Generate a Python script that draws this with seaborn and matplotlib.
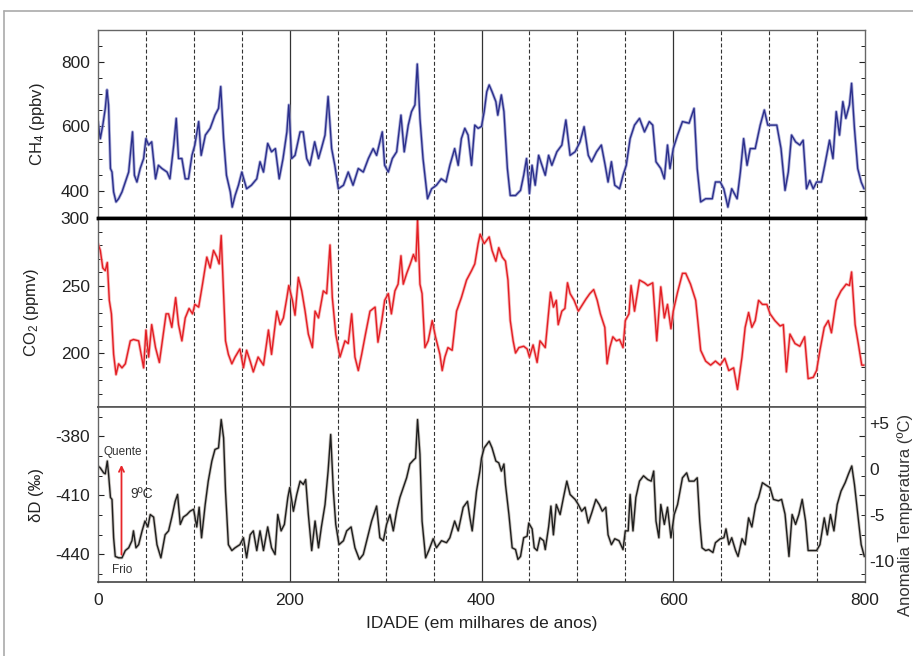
import matplotlib
matplotlib.use("Agg")
import matplotlib.pyplot as plt
from matplotlib.lines import Line2D
from matplotlib.ticker import MultipleLocator, FixedLocator
import seaborn as sns
import numpy as np

# ---------------- data ----------------
ch4_age = [0, 2.4, 5, 7.6, 9.4, 11, 13, 14.6, 16.3, 18.8, 21.5, 25, 28.5, 32, 36, 38, 40.6, 44, 47.6, 50,
           52.8, 56, 60, 63, 66.7, 72, 75, 79, 81.6, 84, 87.5, 91, 94.4, 98, 101, 105, 107.6, 112, 117, 122,
           125.7, 128, 131, 134, 138, 140, 143, 146.5, 150, 155, 160, 165.6, 169, 172.6, 177, 181, 185, 189,
           193, 197, 199, 202, 205.5, 210.8, 214, 217.7, 221, 226, 230, 233, 236.8, 240, 243.7, 247, 250.7,
           256, 261, 266, 271.5, 276.7, 282, 287, 290.6, 294, 296.5, 299, 302.8, 307, 311.5, 316, 319.4,
           323.6, 327, 330.6, 333, 335.8, 339, 343.7, 348, 353, 358, 363, 367, 372, 375.7, 379, 382.6, 386,
           389.6, 393, 396.5, 400, 402.8, 405.5, 408, 411, 415, 417, 420.7, 423.4, 427, 430, 435.5, 440.7,
           444, 447, 450, 452.7, 456, 459.6, 463, 466.5, 470, 473.4, 478.6, 483.8, 488, 492.4, 497.6, 502.8,
           507, 511.4, 514.8, 520, 525, 529, 532, 535.5, 539, 544, 547.6, 551, 555, 559.6, 564.8, 570, 575,
           578.6, 582, 587, 590.7, 594, 596.6, 600, 604.5, 609.6, 616.5, 621.7, 625, 628.6, 633.8, 640.7,
           644, 649, 652.7, 657, 661, 666.6, 670, 673.4, 677, 680.3, 685.5, 690.7, 695, 698.6, 702.8, 708,
           712.4, 716.6, 720, 723.4, 727.6, 732, 735.5, 739, 742.4, 746, 749.5, 754.5, 758, 763, 766.6, 770,
           773.4, 776.9, 780, 783.8, 786, 789, 792.4, 796, 799]
ch4_ppbv = [615, 562, 604, 656, 714, 667, 469, 458, 396, 365, 375, 396, 427, 458, 583, 448, 427, 469, 500, 562,
            542, 552, 437, 479, 469, 458, 437, 542, 625, 500, 500, 437, 437, 510, 542, 615, 510, 573, 594, 635,
            656, 724, 562, 448, 396, 349, 385, 417, 458, 406, 417, 437, 490, 458, 547, 521, 531, 437,
            500, 583, 667, 500, 510, 583, 583, 500, 479, 552, 500, 531, 573, 693, 531, 479, 406,
            417, 458, 417, 469, 458, 500, 531, 510, 552, 583, 479, 458, 500, 521, 635, 521,
            604, 646, 667, 794, 625, 500, 375, 406, 417, 437, 427, 479, 531, 479, 562, 594, 573,
            479, 604, 594, 600, 646, 708, 729, 708, 677, 635, 698, 646, 469, 385, 385, 401,
            448, 500, 391, 479, 417, 510, 479, 448, 510, 479, 521, 542, 620, 510, 521, 552,
            599, 510, 490, 521, 542, 479, 427, 490, 417, 406, 448, 479, 562, 604, 625, 583, 615,
            604, 490, 469, 437, 542, 469, 531, 573, 615, 610, 656, 469, 365, 375, 375,
            427, 427, 406, 349, 406, 375, 458, 562, 479, 531, 531, 604, 651, 604, 604, 604,
            531, 401, 458, 573, 552, 542, 557, 406, 432, 406, 427, 427, 479, 557, 500, 646,
            573, 677, 625, 667, 734, 594, 469, 427, 406]

co2_age = [0, 2.4, 5, 7.6, 9.7, 11.8, 14, 16.3, 18.8, 21.5, 25, 28.5, 33.7, 37, 42.4, 47.6, 50, 52.8, 56, 60,
           64, 66.7, 71, 73.6, 77, 81, 84, 87.5, 91, 95, 98.6, 101, 105, 109, 113.5, 117, 120.5, 124, 126.4,
           128.5, 131, 133, 136, 139.6, 143, 148, 151.7, 155, 158.7, 162, 167, 172.6, 177.8, 181, 186.5, 190,
           193.4, 197, 199, 202.8, 205.5, 209, 212.5, 216, 219.4, 223.6, 226.4, 230, 235, 238.5, 242, 244.4,
           248, 252.4, 257.6, 261, 264.6, 268, 271.5, 275, 279, 283.7, 289, 292, 296, 299, 302.8, 306, 309.7,
           313, 316, 318.4, 322, 325.7, 329, 331.6, 333.3, 335.8, 338, 341, 344.4, 348.6, 352, 356.6, 359,
           361.8, 365, 369.4, 374, 379, 384.4, 389.6, 393, 396.5, 398.6, 402.8, 408, 411, 415, 418, 421.7,
           425, 427.6, 430, 433, 435.5, 439, 444, 447.6, 450, 453.8, 458, 461, 466.5, 472, 475, 478, 480,
           483.8, 487, 489.7, 492.4, 496.6, 501, 504.5, 509, 513, 517, 520.7, 524, 528.6, 531, 533.8, 537,
           540.7, 544, 547.6, 550, 553.8, 556, 559.6, 564.8, 570, 573.4, 578.6, 582.8, 587, 590.7, 594,
           597.6, 600, 604.5, 609.6, 613, 618, 623.4, 626, 628.6, 633.8, 639, 644, 649, 653.7, 657.9, 663,
           667, 671.7, 675, 678.6, 682, 685.5, 689, 693, 697.6, 701, 706, 711.4, 714.8, 718, 721.7, 727,
           732, 737, 740.7, 746, 749.5, 753, 757.5, 761.7, 765, 770, 775, 780.4, 783.8, 786, 789.7, 793,
           796.6, 799]
co2_ppmv = [281, 276, 263, 261, 267, 239, 229, 199, 184, 192, 189, 192, 209, 210, 209, 189, 217, 197, 221, 204,
            193, 207, 229, 229, 219, 241, 221, 209, 226, 233, 229, 236, 234, 251, 271, 263, 276, 271, 266,
            287, 244, 209, 199, 192, 197, 203, 189, 202, 194, 186, 197, 191, 217, 199, 231, 221,
            226, 241, 250, 239, 228, 256, 246, 231, 214, 204, 231, 226, 246, 244, 280, 241,
            214, 197, 209, 207, 229, 197, 187, 199, 214, 231, 234, 208, 224, 239, 244, 229, 246,
            251, 272, 251, 259, 266, 273, 268, 299, 251, 244, 204, 209, 224, 212, 199, 187,
            197, 204, 202, 231, 241, 254, 261, 266, 281, 288, 281, 286, 276, 268, 278, 271,
            268, 254, 224, 209, 200, 204, 205, 203, 197, 206, 193, 209, 204, 245, 234, 239, 221,
            231, 233, 252, 244, 239, 231, 235, 240, 244, 247, 239, 229, 219, 192, 204, 212,
            209, 210, 204, 224, 229, 250, 231, 254, 252, 250, 252, 209, 249, 226, 236,
            218, 231, 245, 259, 259, 251, 239, 221, 202, 194, 191, 194, 191, 196, 187, 189,
            173, 197, 219, 230, 219, 224, 239, 236, 236, 229, 224, 220, 221, 186, 214, 207,
            205, 212, 181, 182, 187, 202, 219, 224, 215, 239, 246, 251, 250, 260, 221, 207,
            191, 191]

dd_age = [0, 2.4, 5.9, 7.6, 9.7, 11, 13, 14.6, 16.3, 18, 21.5, 25, 28.5, 32, 35.4, 37, 39.6, 42.4, 46, 49,
          52, 54.5, 58, 61.5, 65.6, 70, 73.6, 77, 80.5, 83, 85.8, 89, 92.7, 96, 99.7, 103, 105.5, 108, 111.8,
          115, 118.75, 122, 125.7, 128.5, 131, 133, 136, 139.6, 143, 148, 151.7, 155, 158.7, 162, 165.6, 169,
          172.6, 177, 181, 184.7, 187.5, 191, 194.4, 198, 200, 203.8, 207.3, 210.8, 214.2, 216.6, 219.4,
          222.9, 226.4, 230, 233, 236.8, 240, 242.7, 245.5, 248, 251.4, 256, 259.4, 264, 268, 272.6, 276.7,
          281, 285.4, 290.6, 294, 297.6, 301, 304.5, 308, 311.5, 314.9, 318.4, 321.9, 325.3, 329, 331.2,
          333.3, 335.8, 338, 341.7, 345, 349.6, 353, 358.3, 363.5, 367, 372, 375.7, 380.9, 385.4, 387.8,
          390.3, 394.8, 398.3, 400, 402.8, 408, 411, 415, 418, 420.7, 423.4, 425, 428.6, 432, 435.5, 438,
          440.7, 444, 447.6, 449.3, 452.8, 455, 458, 461, 464.8, 466.5, 470, 472.4, 475, 478, 482, 485.5,
          489, 492.4, 497.6, 501, 504.5, 508, 511.4, 515, 519.3, 522.8, 526, 529.6, 532, 535.5, 539, 543.4,
          547.6, 550, 553, 555, 558, 561, 564.8, 569, 573.4, 577, 579.6, 582, 585, 587, 590.7, 594, 597.6,
          601, 604.5, 609.6, 614, 616.5, 621.7, 625, 627.6, 630, 633.8, 637, 641.4, 644, 649, 652.8, 655,
          658, 661, 665, 667.6, 671.7, 675, 678.6, 682, 686, 689, 693, 697.6, 701, 704.5, 709.7, 713,
          716.6, 720.7, 724, 727.6, 731, 734.5, 738, 740.7, 744, 749.5, 753, 757.5, 760.7, 764, 767.6, 771,
          775, 779.3, 782.8, 786.2, 789, 792.5, 796, 799.3]
dd_permil = [-395, -396, -398.5, -399, -392.5, -399, -411, -412, -431.5, -441, -441.7, -441.7, -438, -436.6,
             -433, -428, -436.6, -435, -428, -423, -426, -419.7, -421, -435, -441.7, -430, -428, -421, -413,
             -409.5, -424.7, -421, -419.7, -418, -417, -426, -416, -431.5, -414.6, -402.7, -392.5, -386.6,
             -385.8, -371.4, -380.7, -407.8, -435, -438, -436.6, -435, -431.5, -441.7, -430, -428, -438, -428,
             -438, -426, -436.6, -440, -419.7, -428, -424.7, -411, -406, -418, -409.5, -402.7, -404.4, -401.9,
             -419.7, -438, -423, -436.6, -426, -414.6, -397.6, -379, -407.8, -424.7, -435, -433, -428, -426,
             -436.6, -442.5, -440, -431.5, -423, -415.4, -431.5, -433, -424.7, -419.7, -428, -418, -411, -406,
             -401, -394, -392, -391, -371.4, -389, -423, -441.7, -438, -432, -436.6, -433, -434, -431.5, -423,
             -428, -416, -413, -421, -428, -407.8, -397.6, -391, -385.8, -382.4, -385.8, -392.5, -393.4,
             -397.6, -394, -404.4, -419.7, -436.6, -437.5, -442.5, -441, -431.5, -430.7, -424, -427, -436.6,
             -438, -431.5, -433, -437.5, -426, -415.4, -430, -414.6, -419.7, -411, -402.7, -409.5, -412,
             -414.6, -418, -416, -424, -418.8, -412, -414.6, -418, -416, -430, -435, -432, -433, -437.5, -428,
             -428, -409.5, -428, -411, -402.7, -400, -401.9, -402.7, -397.6, -423, -431.5, -414.6, -424.7,
             -416, -431.5, -419.7, -414.6, -401, -398.5, -402.7, -402.7, -401, -423, -436.6, -438, -437.5,
             -439, -434, -432, -431.5, -427, -435, -431.5, -438, -441, -432, -435, -421.4, -426, -414.6, -411,
             -403.5, -405, -406, -412, -412.7, -412, -419.5, -441, -419.7, -424.7, -419.7, -412, -423, -438,
             -438, -438, -435, -421.4, -430, -419.7, -428, -414.6, -407.8, -403.5, -399, -395, -404.4, -419.7,
             -435, -441]

x_ticks = [0, 200, 400, 600, 800]
ch4_ticks = [400, 600, 800]
co2_ticks = [200, 250, 300]
dd_ticks = [-380, -410, -440]
temp_ticks = [5, 0, -5, -10]
temp_labels = ["+5", "0", "-5", "-10"]
solid_lines = [200, 400, 600]
dashed_lines = [50, 100, 150, 250, 300, 350, 450, 500, 550, 650, 700, 750]

# ---------------- style ----------------
sns.set_theme(style="white")
plt.rcParams['font.family'] = ['Liberation Sans', 'DejaVu Sans']
plt.rcParams['mathtext.fontset'] = 'custom'
plt.rcParams['mathtext.rm'] = 'Liberation Sans'
plt.rcParams['mathtext.default'] = 'rm'
plt.rcParams['axes.unicode_minus'] = False

fig = plt.figure(figsize=(9.13, 6.56), dpi=100)
L, W = 98 / 913, (865 - 98) / 913
def frac(top_px, bot_px):
    return [L, 1 - bot_px / 656, W, (bot_px - top_px) / 656]

ax1 = fig.add_axes(frac(30, 218))
ax2 = fig.add_axes(frac(218, 407), sharex=ax1)
ax3 = fig.add_axes(frac(407, 582), sharex=ax1)

def draw(ax, x, y, halo, core):
    sns.lineplot(x=x, y=y, ax=ax, color=halo, lw=2.2, estimator=None, sort=False, alpha=0.8)
    sns.lineplot(x=x, y=y, ax=ax, color=core, lw=1.0, estimator=None, sort=False)

draw(ax1, ch4_age, ch4_ppbv, '#9a9dd0', '#2b2f8c')
draw(ax2, co2_age, co2_ppmv, '#f5a3a3', '#e31e24')
draw(ax3, dd_age, dd_permil, '#b8b2ab', '#1e1e1e')

for ax in (ax1, ax2, ax3):
    ax.set_xlim(0, 800)
    for v in solid_lines:
        ax.axvline(v, color='#333333', lw=0.9, zorder=0)
    for v in dashed_lines:
        ax.axvline(v, color='#333333', lw=0.8, ls=(0, (3.5, 2.0)), zorder=0)
    ax.set_xlabel('')
    for s in ax.spines.values():
        s.set_color('#666666')
        s.set_linewidth(1.0)
    ax.tick_params(axis='y', which='both', direction='in', left=True, right=True,
                   labelsize=12.5, colors='#222222', pad=6)
    ax.tick_params(axis='y', which='major', length=4, width=0.8)
    ax.tick_params(axis='y', which='minor', length=3, width=0.7)
    ax.tick_params(axis='x', length=0, labelsize=12.5, colors='#222222', pad=8)

ax1.set_ylim(315, 900)
ax1.yaxis.set_major_locator(FixedLocator(ch4_ticks))
ax1.yaxis.set_minor_locator(MultipleLocator(50))
ax1.set_ylabel('CH$_4$ (ppbv)', fontsize=12, color='#222222', labelpad=10)

ax2.set_ylim(160, 300)
ax2.yaxis.set_major_locator(FixedLocator(co2_ticks))
ax2.yaxis.set_minor_locator(MultipleLocator(10))
ax2.set_ylabel('CO$_2$ (ppmv)', fontsize=12, color='#222222', labelpad=14)

ax3.set_ylim(-454, -365)
ax3.yaxis.set_major_locator(FixedLocator(dd_ticks))
ax3.yaxis.set_minor_locator(MultipleLocator(10))
ax3.set_ylabel('δD (‰)', fontsize=12, color='#222222', labelpad=8)

ax1.spines['bottom'].set_color('black'); ax1.spines['bottom'].set_linewidth(2.5)
ax2.spines['top'].set_color('black'); ax2.spines['top'].set_linewidth(2.5)
ax2.spines['bottom'].set_color('#555555'); ax2.spines['bottom'].set_linewidth(1.2)
ax3.spines['top'].set_color('#555555'); ax3.spines['top'].set_linewidth(1.2)
ax3.spines['bottom'].set_color('#444444'); ax3.spines['bottom'].set_linewidth(1.2)

plt.setp(ax1.get_xticklabels(), visible=False)
plt.setp(ax2.get_xticklabels(), visible=False)
ax3.xaxis.set_major_locator(FixedLocator(x_ticks))
ax3.set_xlabel('IDADE (em milhares de anos)', fontsize=12.5, color='#222222', labelpad=6)

# temperature axis on the right
d0, slope = -396.3, 4.68
sec = ax3.secondary_yaxis('right', functions=(lambda d: (d - d0) / slope, lambda t: d0 + slope * t))
sec.yaxis.set_major_locator(FixedLocator(temp_ticks))
sec.set_yticklabels(temp_labels)
sec.tick_params(length=0, labelsize=12.5, colors='#222222', pad=3)
sec.spines['right'].set_visible(False)
fig.text(0.9915, 0.215, 'Anomalia Temperatura (ºC)', rotation=90, fontsize=12,
         color='#333333', ha='center', va='center')

# annotation arrow
ax3.annotate('', xy=(24.5, -393), xytext=(24.5, -441.5),
             arrowprops=dict(arrowstyle='->', color='#e8262a', lw=1.3, mutation_scale=9))
ax3.text(26, -388, 'Quente', fontsize=8.5, ha='center', va='center', color='#333333')
ax3.text(46, -409.5, '9ºC', fontsize=10, ha='center', va='center', color='#333333')
ax3.text(25, -448, 'Frio', fontsize=8.5, ha='center', va='center', color='#333333')

# outer frame of the figure
fig.add_artist(Line2D([4 / 913, 4 / 913], [0, 1 - 11 / 656], color='#aaaaaa', lw=1.2))
fig.add_artist(Line2D([4 / 913, 1], [1 - 11 / 656, 1 - 11 / 656], color='#aaaaaa', lw=1.2))

fig.savefig('out.png', dpi=100)
